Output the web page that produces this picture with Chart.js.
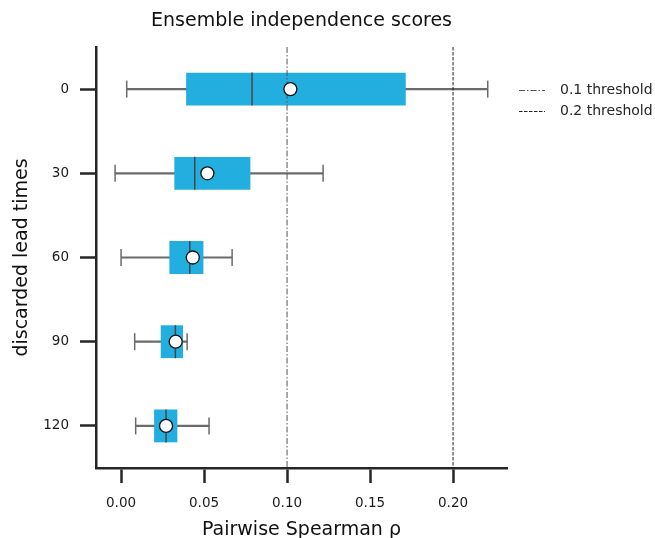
<!DOCTYPE html>
<html>
<head>
<meta charset="utf-8">
<script src="https://cdn.jsdelivr.net/npm/chart.js@4/dist/chart.umd.min.js"></script>
<style>
  html, body { margin: 0; padding: 0; background: #fff; overflow: hidden; }
  canvas { display: block; }
</style>
</head>
<body>
<canvas id="chart" width="655" height="538"></canvas>
<script>
// Box-plot summary of pairwise Spearman correlation per discarded lead time
const leadTimes   = ['0', '30', '60', '90', '120'];
const whiskerLow  = [0.0034, -0.0036, 0.0000, 0.0082, 0.0088];
const q1          = [0.0392, 0.0321, 0.0291, 0.0239, 0.0199];
const median      = [0.0789, 0.0444, 0.0414, 0.0327, 0.0271];
const mean        = [0.1020, 0.0520, 0.0432, 0.0329, 0.0271];
const q3          = [0.1715, 0.0779, 0.0496, 0.0373, 0.0339];
const whiskerHigh = [0.2209, 0.1217, 0.0669, 0.0398, 0.0530];

const thresholds     = [0.1, 0.2];
const thresholdNames = ['0.1 threshold', '0.2 threshold'];

const xTickValues = [0, 0.05, 0.10, 0.15, 0.20];
const xTickLabels = ['0.00', '0.05', '0.10', '0.15', '0.20'];

const FONT = "'DejaVu Sans', 'Liberation Sans', sans-serif";
const INK = '#262626';
const BOX = '#22afdf';
const WHISKER = '#6b6b6b';
const MEDIAN = '#474747';

const thresholdStyles = [
  { color: '#555555', dash: [6, 2, 1.5, 2] },
  { color: '#222222', dash: [3.5, 1.5] }
];

// short line sample used as the legend symbol
function swatch(style) {
  const c = document.createElement('canvas');
  c.width = 39; c.height = 6;
  const g = c.getContext('2d');
  g.strokeStyle = style.color;
  g.lineWidth = 1;
  g.setLineDash(style.dash);
  g.beginPath();
  g.moveTo(5, 3.5);
  g.lineTo(31, 3.5);
  g.stroke();
  return c;
}

const rows = leadTimes.map((_, i) => i);

const datasets = [
  {
    type: 'line', label: 'mean',
    data: rows.map(i => ({ x: mean[i], y: i })),
    showLine: false, pointStyle: 'circle', pointRadius: 6.5,
    pointBackgroundColor: '#ffffff', pointBorderColor: '#111111', pointBorderWidth: 1.3,
    order: 0
  },
  ...thresholds.map((t, k) => ({
    type: 'line', label: thresholdNames[k],
    data: [{ x: t, y: -0.5 }, { x: t, y: leadTimes.length - 0.5 }],
    borderColor: thresholdStyles[k].color, borderWidth: 1,
    borderDash: thresholdStyles[k].dash,
    pointRadius: 0, pointStyle: swatch(thresholdStyles[k]),
    order: 1
  })),
  {
    type: 'line', label: 'median',
    data: rows.map(i => ({ x: median[i], y: i })),
    showLine: false, pointStyle: 'line', pointRotation: 90, pointRadius: 16.5,
    pointBorderColor: MEDIAN, pointBorderWidth: 1.5,
    order: 2
  },
  {
    type: 'bar', label: 'interquartile range',
    data: rows.map(i => ({ x: [q1[i], q3[i]], y: i })),
    backgroundColor: BOX, borderWidth: 0,
    barPercentage: 0.39, categoryPercentage: 1, grouped: false,
    order: 3
  },
  {
    type: 'line', label: 'whisker caps',
    data: rows.map(i => ({ x: whiskerLow[i], y: i }))
      .concat(rows.map(i => ({ x: whiskerHigh[i], y: i }))),
    showLine: false, pointStyle: 'line', pointRotation: 90, pointRadius: 8.5,
    pointBorderColor: WHISKER, pointBorderWidth: 1.5,
    order: 4
  },
  {
    type: 'bar', label: 'whiskers',
    data: rows.map(i => ({ x: [whiskerLow[i], whiskerHigh[i]], y: i })),
    backgroundColor: WHISKER, borderWidth: 0,
    barThickness: 1.5, grouped: false,
    order: 5
  }
];

new Chart(document.getElementById('chart'), {
  type: 'bar',
  data: { datasets },
  options: {
    indexAxis: 'y',
    responsive: false,
    devicePixelRatio: 1,
    animation: false,
    events: [],
    layout: { padding: 0 },
    scales: {
      x: {
        type: 'linear', position: 'bottom',
        min: -0.0151, max: 0.2325,
        afterBuildTicks: s => { s.ticks = xTickValues.map(v => ({ value: v })); },
        ticks: {
          callback: (v, i) => xTickLabels[i],
          font: { family: FONT, size: 13.5 }, color: '#1a1a1a', padding: 12
        },
        grid: { drawOnChartArea: false, drawTicks: true, tickLength: 15, tickWidth: 2.5, tickColor: INK },
        border: { display: true, width: 2.5, color: INK },
        title: {
          display: true, text: 'Pairwise Spearman ρ',
          font: { family: FONT, size: 19, lineHeight: 1 }, color: '#111111',
          padding: { top: 0, bottom: -2 }
        },
        afterFit: s => { s.height = 70; }
      },
      y: {
        type: 'linear', position: 'left', reverse: true,
        offset: false,
        min: -0.5, max: leadTimes.length - 0.5,
        afterBuildTicks: s => { s.ticks = rows.map(i => ({ value: i })); },
        ticks: {
          callback: v => leadTimes[v],
          font: { family: FONT, size: 13.5 }, color: '#1a1a1a', padding: 11
        },
        grid: { offset: false, drawOnChartArea: false, drawTicks: true, tickLength: 16, tickWidth: 2.5, tickColor: INK },
        border: { display: true, width: 2.5, color: INK },
        title: {
          display: true, text: 'discarded lead times',
          font: { family: FONT, size: 19, lineHeight: 1 }, color: '#111111',
          padding: { top: 13, bottom: 0 }
        },
        afterFit: s => { s.width = 96; }
      }
    },
    plugins: {
      tooltip: { enabled: false },
      title: {
        display: true, text: 'Ensemble independence scores',
        fullSize: false,
        font: { family: FONT, size: 19, weight: 'normal', lineHeight: 1.2 },
        color: '#111111',
        padding: { top: 10, bottom: 14.2 }
      },
      legend: {
        display: true, position: 'right', align: 'start', fullSize: true,
        maxWidth: 148,
        title: { display: true, text: ' ', font: { size: 10, lineHeight: 1 }, padding: { top: 66, bottom: 0 } },
        labels: {
          usePointStyle: true, pointStyleWidth: 39, padding: 7,
          font: { family: FONT, size: 14 }, color: INK,
          filter: item => thresholdNames.includes(item.text)
        }
      }
    }
  }
});
</script>
</body>
</html>
